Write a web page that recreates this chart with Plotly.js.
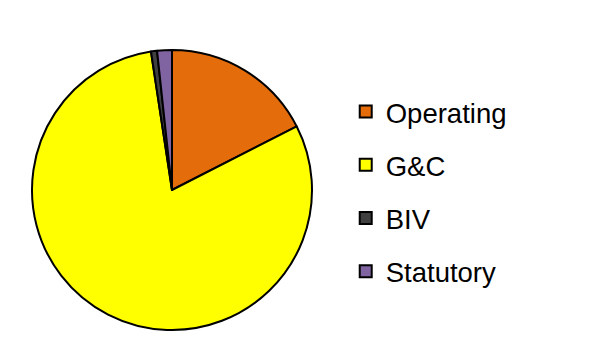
<!DOCTYPE html>
<html>
<head>
<meta charset="utf-8">
<script src="https://cdn.plot.ly/plotly-3.0.1.min.js"></script>
<style>html,body{margin:0;padding:0;background:#fff;}</style>
</head>
<body>
<div id="chart" style="width:597px;height:361px;"></div>
<script>
var categories = ["Operating", "G&C", "BIV", "Statutory"];
var values = [17.5, 80.1, 0.7, 1.7];
var colors = ["#E46C0A", "#FFFF00", "#404040", "#8064A2"];

var legendLabels = categories.map(function (c) {
  return '<span style="font-size:27.5px;baseline-shift:4px">' + c.replace('&', '&amp;') + '</span>';
});

var trace = {
  type: "pie",
  labels: legendLabels,
  values: values,
  sort: false,
  direction: "clockwise",
  rotation: 0,
  textinfo: "none",
  hoverinfo: "none",
  marker: { colors: colors, line: { color: "#000000", width: 2 } },
  domain: { x: [31 / 597, 313 / 597], y: [1 - 330 / 361, 1 - 50 / 361] }
};

var layout = {
  width: 597,
  height: 361,
  margin: { l: 0, r: 0, t: 0, b: 0 },
  paper_bgcolor: "#ffffff",
  showlegend: true,
  legend: {
    x: 0.5791,
    y: 0.4695,
    yanchor: "middle",
    xanchor: "left",
    font: { family: "Liberation Sans, Arial, sans-serif", size: 38.6, color: "#000000" },
    itemclick: false
  }
};

Plotly.newPlot("chart", [trace], layout, { displayModeBar: false, staticPlot: true });
</script>
</body>
</html>
